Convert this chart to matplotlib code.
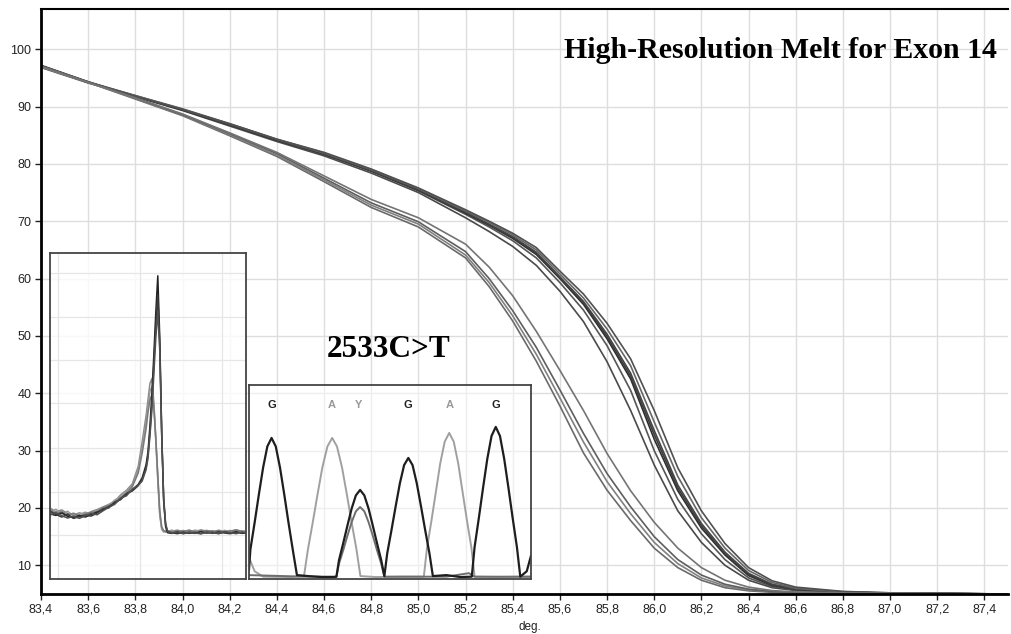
import matplotlib
matplotlib.use("Agg")
import matplotlib.pyplot as plt
import numpy as np
from matplotlib.ticker import FuncFormatter

# main melt curves (normalised fluorescence vs temperature)
temps = [83.4, 83.6, 83.8, 84.0, 84.2, 84.4, 84.6, 84.8, 85.0, 85.2, 85.3, 85.4, 85.5,
         85.6, 85.7, 85.8, 85.9, 86.0, 86.1, 86.2, 86.3, 86.4, 86.5, 86.6, 86.8, 87.0, 87.5]

wild_type = [
    [97.2, 94.3, 91.7, 89.3, 86.6, 83.9, 81.4, 78.4, 75.0, 70.6, 68.2, 65.6, 62.3, 57.8, 52.5, 45.5, 37.0, 27.5, 19.5, 14.0, 10.0, 7.4, 6.1, 5.6, 5.25, 5.1, 5.0],
    [96.8, 94.1, 91.8, 89.5, 86.9, 84.2, 81.7, 78.7, 75.3, 71.2, 69.0, 66.6, 63.6, 59.3, 54.5, 48.3, 40.5, 30.0, 21.5, 15.5, 11.0, 7.8, 6.3, 5.7, 5.3, 5.15, 5.0],
    [97.0, 94.2, 91.8, 89.4, 86.8, 84.1, 81.7, 78.8, 75.4, 71.4, 69.3, 67.0, 64.2, 60.0, 55.5, 49.5, 42.5, 32.0, 23.0, 16.5, 11.8, 8.2, 6.5, 5.8, 5.3, 5.15, 5.0],
    [97.1, 94.2, 91.8, 89.4, 86.8, 84.1, 81.7, 78.8, 75.4, 71.5, 69.4, 67.2, 64.4, 60.2, 55.8, 49.9, 43.0, 32.8, 23.5, 16.9, 12.0, 8.4, 6.6, 5.85, 5.3, 5.15, 5.0],
    [97.1, 94.3, 91.9, 89.5, 86.9, 84.2, 81.8, 78.9, 75.5, 71.6, 69.5, 67.3, 64.6, 60.3, 56.0, 50.3, 43.5, 33.5, 24.0, 17.3, 12.3, 8.6, 6.7, 5.9, 5.35, 5.15, 5.0],
    [96.9, 94.2, 91.9, 89.6, 87.0, 84.3, 81.9, 79.0, 75.7, 71.8, 69.8, 67.6, 65.0, 60.8, 56.6, 51.2, 44.8, 35.0, 25.5, 18.3, 13.0, 9.1, 7.0, 6.0, 5.4, 5.2, 5.0],
    [97.0, 94.2, 91.8, 89.5, 87.0, 84.3, 82.0, 79.1, 75.8, 72.0, 70.0, 67.9, 65.4, 61.3, 57.3, 52.2, 46.0, 37.0, 27.0, 19.5, 13.8, 9.6, 7.3, 6.2, 5.45, 5.2, 5.0],
]
mutant = [
    [97.0, 94.2, 91.3, 88.4, 84.9, 81.3, 76.9, 72.4, 69.0, 63.6, 58.6, 52.6, 45.6, 37.8, 29.6, 23.1, 17.8, 13.0, 9.6, 7.4, 6.1, 5.55, 5.3, 5.2, 5.1, 5.05, 5.0],
    [96.9, 94.2, 91.4, 88.5, 85.1, 81.5, 77.2, 72.8, 69.5, 64.1, 59.3, 53.5, 46.8, 39.2, 31.5, 24.6, 19.0, 14.0, 10.3, 7.8, 6.4, 5.7, 5.4, 5.25, 5.15, 5.1, 5.0],
    [97.1, 94.3, 91.5, 88.6, 85.3, 81.8, 77.5, 73.2, 69.9, 64.7, 60.0, 54.4, 48.0, 40.6, 33.0, 26.0, 20.2, 15.0, 11.0, 8.3, 6.7, 5.85, 5.45, 5.3, 5.15, 5.1, 5.0],
    [97.0, 94.2, 91.5, 88.7, 85.4, 82.0, 77.9, 73.8, 70.6, 66.0, 62.0, 57.0, 50.8, 44.0, 37.0, 29.5, 23.0, 17.5, 13.0, 9.6, 7.4, 6.2, 5.6, 5.35, 5.2, 5.1, 5.0],
]
wt_colors = ['#4a4a4a', '#555555', '#2e2e2e', '#3c3c3c', '#444444', '#666666', '#505050']
mut_colors = ['#6a6a6a', '#808080', '#5e5e5e', '#747474']

# derivative peak inset (fraction of inset box)
peak_x = [0.00, 0.03, 0.06, 0.09, 0.12, 0.15, 0.18, 0.21, 0.24, 0.27, 0.30, 0.33, 0.36, 0.39, 0.42,
          0.45, 0.47, 0.49, 0.50, 0.51, 0.52, 0.53, 0.54, 0.55, 0.56, 0.57, 0.58, 0.59, 0.60,
          0.62, 0.65, 0.68, 0.71, 0.74, 0.77, 0.80, 0.83, 0.86, 0.89, 0.92, 0.95, 0.98, 1.00]
peak_curves = [
    [0.218, 0.206, 0.212, 0.201, 0.196, 0.203, 0.197, 0.207, 0.213, 0.221, 0.229, 0.238, 0.258, 0.272, 0.292, 0.345,
     0.42, 0.50, 0.55, 0.60, 0.615, 0.54, 0.43, 0.31, 0.20, 0.155, 0.147, 0.145, 0.148,
     0.146, 0.150, 0.144, 0.149, 0.145, 0.151, 0.146, 0.148, 0.143, 0.149, 0.146, 0.150, 0.145, 0.147],
    [0.205, 0.214, 0.199, 0.208, 0.193, 0.198, 0.205, 0.199, 0.210, 0.216, 0.226, 0.242, 0.252, 0.268, 0.287, 0.335,
     0.40, 0.48, 0.53, 0.575, 0.59, 0.53, 0.42, 0.30, 0.195, 0.152, 0.144, 0.149, 0.145,
     0.150, 0.145, 0.149, 0.143, 0.150, 0.146, 0.148, 0.144, 0.150, 0.146, 0.149, 0.144, 0.148, 0.146],
    [0.212, 0.200, 0.207, 0.195, 0.202, 0.192, 0.200, 0.204, 0.207, 0.219, 0.224, 0.235, 0.249, 0.263, 0.283, 0.325,
     0.385, 0.46, 0.51, 0.55, 0.565, 0.525, 0.43, 0.32, 0.21, 0.16, 0.148, 0.144, 0.147,
     0.143, 0.148, 0.146, 0.150, 0.144, 0.147, 0.149, 0.145, 0.148, 0.143, 0.147, 0.151, 0.146, 0.144],
    [0.200, 0.195, 0.203, 0.192, 0.188, 0.195, 0.190, 0.198, 0.205, 0.212, 0.222, 0.232, 0.246, 0.260, 0.273, 0.290,
     0.31, 0.35, 0.39, 0.47, 0.57, 0.69, 0.82, 0.93, 0.74, 0.45, 0.24, 0.16, 0.142,
     0.140, 0.144, 0.139, 0.143, 0.140, 0.145, 0.141, 0.143, 0.139, 0.144, 0.141, 0.145, 0.140, 0.142],
    [0.208, 0.198, 0.190, 0.199, 0.186, 0.191, 0.196, 0.193, 0.202, 0.215, 0.218, 0.236, 0.243, 0.262, 0.270, 0.286,
     0.305, 0.34, 0.38, 0.45, 0.54, 0.66, 0.78, 0.87, 0.72, 0.44, 0.24, 0.165, 0.145,
     0.142, 0.139, 0.144, 0.140, 0.143, 0.139, 0.144, 0.140, 0.145, 0.141, 0.139, 0.143, 0.141, 0.140],
    [0.196, 0.204, 0.194, 0.187, 0.193, 0.186, 0.194, 0.201, 0.197, 0.209, 0.220, 0.229, 0.248, 0.255, 0.276, 0.288,
     0.30, 0.335, 0.37, 0.44, 0.52, 0.63, 0.74, 0.82, 0.70, 0.44, 0.25, 0.17, 0.147,
     0.141, 0.145, 0.140, 0.144, 0.141, 0.139, 0.143, 0.142, 0.140, 0.145, 0.142, 0.139, 0.144, 0.141],
]
peak_colors = ['#8a8a8a', '#9a9a9a', '#7a7a7a', '#222222', '#3a3a3a', '#505050']

# sequencing chromatogram inset (fraction of inset box)
# black trace: G, C (of Y), G, G
g_c_x = [0.000, 0.005, 0.020, 0.035, 0.050, 0.065, 0.080, 0.095, 0.110, 0.125, 0.140, 0.155, 0.170,
         0.210, 0.260, 0.300,
         0.310, 0.319, 0.334, 0.349, 0.364, 0.379, 0.394, 0.409, 0.424, 0.439, 0.454, 0.469, 0.480,
         0.490, 0.505, 0.520, 0.535, 0.550, 0.565, 0.580, 0.595, 0.610, 0.625, 0.640, 0.652,
         0.700, 0.750,
         0.790, 0.800, 0.815, 0.830, 0.845, 0.860, 0.875, 0.890, 0.905, 0.920, 0.935, 0.950, 0.962,
         0.985, 1.000]
g_c_y = [0.05, 0.153, 0.291, 0.436, 0.574, 0.683, 0.727, 0.683, 0.574, 0.436, 0.291, 0.153, 0.02,
         0.015, 0.01, 0.01,
         0.012, 0.096, 0.184, 0.275, 0.363, 0.431, 0.459, 0.431, 0.363, 0.275, 0.184, 0.096, 0.015,
         0.131, 0.250, 0.374, 0.493, 0.587, 0.624, 0.587, 0.493, 0.374, 0.250, 0.131, 0.015,
         0.02, 0.01,
         0.012, 0.165, 0.314, 0.470, 0.619, 0.737, 0.784, 0.737, 0.619, 0.470, 0.314, 0.165, 0.012,
         0.04, 0.12]
# light trace: A, A
a_x = [0.000, 0.020, 0.050, 0.150,
       0.195, 0.209, 0.226, 0.243, 0.260, 0.278, 0.295, 0.312, 0.330, 0.347, 0.364, 0.381, 0.395,
       0.450, 0.550,
       0.620, 0.631, 0.647, 0.663, 0.678, 0.694, 0.710, 0.726, 0.742, 0.757, 0.773, 0.789, 0.800,
       0.880, 1.000]
a_y = [0.11, 0.04, 0.012, 0.01,
       0.015, 0.153, 0.291, 0.436, 0.574, 0.683, 0.727, 0.683, 0.574, 0.436, 0.291, 0.153, 0.015,
       0.01, 0.012,
       0.012, 0.158, 0.301, 0.452, 0.595, 0.708, 0.753, 0.708, 0.595, 0.452, 0.301, 0.158, 0.012,
       0.01, 0.012]
# mid-grey trace: T (of Y)
t_x = [0.000, 0.200,
       0.310, 0.319, 0.334, 0.349, 0.364, 0.379, 0.394, 0.409, 0.424, 0.439, 0.454, 0.469, 0.480,
       0.700, 0.780, 0.800, 1.000]
t_y = [0.02, 0.012,
       0.012, 0.078, 0.148, 0.223, 0.293, 0.349, 0.371, 0.349, 0.293, 0.223, 0.148, 0.078, 0.012,
       0.012, 0.03, 0.012, 0.012]
bases = ['G', 'A', 'Y', 'G', 'A', 'G']
base_x = [0.08, 0.295, 0.39, 0.565, 0.71, 0.875]
base_colors = ['#222222', '#999999', '#999999', '#222222', '#999999', '#222222']

W, H = 1011, 634
fig = plt.figure(figsize=(W / 100, H / 100), dpi=100)
plt.rcParams['font.family'] = ['Liberation Sans', 'DejaVu Sans']

ax = fig.add_axes([41 / W, 1 - 594 / H, 967 / W, 585 / H])
for vals, c in zip(wild_type, wt_colors):
    ax.plot(temps, vals, color=c, lw=1.2)
for vals, c in zip(mutant, mut_colors):
    ax.plot(temps, vals, color=c, lw=1.2)

ax.set_xlim(83.4, 87.5)
ax.set_ylim(5, 107)
ax.set_xticks(np.round(np.arange(83.4, 87.41, 0.2), 1))
ax.set_yticks(np.arange(10, 101, 10))
ax.xaxis.set_major_formatter(FuncFormatter(lambda v, p: f"{v:.1f}".replace('.', ',')))
ax.tick_params(labelsize=9, length=4, width=1, colors='#222222', pad=3)
ax.grid(True, color='#dedede', lw=1)
ax.set_axisbelow(True)
ax.set_xlabel('deg.', fontsize=8.5, color='#222222')
ax.xaxis.set_label_coords(0.506, -0.046)
ax.spines['left'].set_linewidth(2)
ax.spines['bottom'].set_linewidth(2)
ax.spines['top'].set_linewidth(1.5)
ax.spines['right'].set_visible(False)

# derivative inset
ax1 = fig.add_axes([50 / W, 1 - 579 / H, 196 / W, 326 / H], zorder=3)
ax1.set_facecolor((1, 1, 1, 0.8))
for vals, c in zip(peak_curves, peak_colors):
    ax1.plot(peak_x, vals, color=c, lw=1.1)
ax1.set_xlim(0, 1)
ax1.set_ylim(0, 1)
ax1.set_xticks([0.04, 0.46, 0.88])
ax1.set_yticks([0.135, 0.267, 0.402, 0.540, 0.672, 0.804, 0.939])
ax1.tick_params(length=0, labelbottom=False, labelleft=False)
ax1.grid(True, color='#e6e6e6', lw=0.9)
for s in ax1.spines.values():
    s.set_color('#444444')
    s.set_linewidth(1.3)

# chromatogram inset
ax2 = fig.add_axes([249 / W, 1 - 579 / H, 282 / W, 194 / H], zorder=3)
ax2.set_facecolor((1, 1, 1, 0.5))
ax2.plot(a_x, a_y, color='#a0a0a0', lw=1.4)
ax2.plot(t_x, t_y, color='#6e6e6e', lw=1.4)
ax2.plot(g_c_x, g_c_y, color='#1e1e1e', lw=1.6)
for b, x, c in zip(bases, base_x, base_colors):
    ax2.text(x, 0.897, b, color=c, fontsize=8, fontweight='bold', ha='center', va='center')
ax2.set_xlim(0, 1)
ax2.set_ylim(0, 1)
ax2.set_xticks([])
ax2.set_yticks([])
for s in ax2.spines.values():
    s.set_color('#444444')
    s.set_linewidth(1.3)

fig.text(997 / W, 1 - 58 / H, 'High-Resolution Melt for Exon 14', ha='right', va='baseline',
         fontsize=21.5, fontweight='bold', family='Liberation Serif')
fig.text(327 / W, 1 - 357 / H, '2533C>T', ha='left', va='baseline',
         fontsize=22.5, fontweight='bold', family='Liberation Serif')

fig.savefig('out.png', dpi=100)
